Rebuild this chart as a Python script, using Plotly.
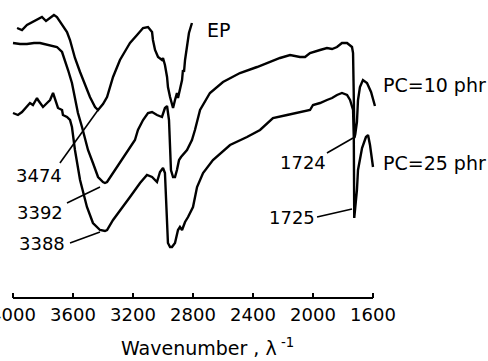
import plotly.graph_objects as go

# ---- data (wavenumber cm^-1, transmittance in arbitrary units) ----
ep_wn = [3973, 3940, 3907, 3867, 3840, 3807, 3780, 3753, 3727, 3707, 3673, 3640, 3620, 3607,
         3587, 3553, 3520, 3487, 3453, 3433, 3400, 3373, 3333, 3287, 3240, 3220, 3173, 3133,
         3100, 3073, 3067, 3053, 3033, 3007, 3000, 2987, 2973, 2967, 2953, 2940, 2933, 2920,
         2907, 2900, 2887, 2873, 2867, 2860, 2853, 2840, 2827, 2807]
ep_t = [135, 134, 136.5, 138, 139, 140.5, 138.5, 140, 141.5, 140.5, 136.5, 133, 129, 125.5,
        120, 113, 106.5, 100.5, 95.5, 94, 97, 100.5, 110.5, 119, 125, 127.5, 131.5, 135,
        135.5, 133, 129, 124, 120.5, 119, 120, 116.5, 110.5, 105.5, 100.5, 96.5, 95, 99,
        102.5, 100, 104, 109, 114, 113, 119, 125.5, 132.5, 137.5]

pc10_wn = [4000, 3953, 3907, 3860, 3820, 3787, 3753, 3707, 3673, 3653, 3633, 3607, 3587, 3567,
           3540, 3520, 3500, 3467, 3433, 3400, 3387, 3373, 3333, 3287, 3220, 3187, 3167, 3133,
           3100, 3073, 3040, 3007, 2987, 2973, 2960, 2953, 2947, 2933, 2920, 2907, 2893, 2880,
           2867, 2840, 2807, 2787, 2753, 2687, 2600, 2487, 2373, 2287, 2220, 2153, 2087, 2053,
           2020, 1953, 1907, 1873, 1840, 1807, 1773, 1740, 1733, 1729, 1724, 1718, 1707, 1700,
           1687, 1667, 1640, 1613, 1600, 1587]
pc10_t = [127.5, 127, 127, 127.5, 127.5, 127, 126.5, 125.5, 123, 119, 114, 107.5, 99, 92.5,
          85.5, 79, 74, 67.5, 60.5, 58, 57.5, 58, 62.5, 67.5, 75, 79, 84, 89,
          92.5, 93, 91.5, 90.5, 95, 96, 89, 74, 64, 60.5, 60.5, 64, 69, 70.5,
          71.5, 74, 79, 84, 94, 102.5, 108, 112.5, 115.5, 118, 120, 121.5, 120.5, 120.5,
          122.5, 124, 125, 124.5, 125.5, 127.5, 127.5, 125.5, 122.5, 105, 80, 82, 88, 99,
          105.5, 109, 107.5, 103, 99, 96]

pc25_wn = [4000, 3967, 3940, 3907, 3887, 3867, 3840, 3833, 3807, 3800, 3773, 3753, 3733, 3720,
           3700, 3673, 3667, 3640, 3620, 3607, 3587, 3553, 3507, 3467, 3420, 3387, 3373, 3333,
           3267, 3220, 3153, 3107, 3073, 3040, 3020, 3000, 2987, 2980, 2973, 2967, 2953, 2940,
           2920, 2900, 2887, 2873, 2853, 2833, 2800, 2773, 2733, 2667, 2553, 2440, 2353, 2267,
           2173, 2087, 2020, 2000, 1953, 1907, 1873, 1840, 1807, 1773, 1753, 1733, 1728, 1725,
           1707, 1700, 1673, 1647, 1633, 1620, 1607, 1600]
pc25_t = [92.5, 91.5, 93, 95.5, 97.5, 96.5, 100, 99, 96.5, 95.5, 97.5, 99, 102.5, 99,
          95, 94, 91.5, 90.5, 89, 85.5, 74, 59, 45.5, 37.5, 34, 33.5, 34, 39,
          45.5, 50.5, 57.5, 61.5, 60.5, 58, 63, 65, 62.5, 50.5, 34, 27.5, 25.5, 25.5,
          27.5, 34, 35.5, 34, 38, 40.5, 45.5, 55.5, 62.5, 69, 76.5, 80.5, 84, 90,
          91.5, 93, 94, 96.5, 97.5, 99, 100, 101.5, 102.5, 101.5, 99, 94, 80, 40,
          54, 64, 75, 80.5, 81.5, 76.5, 69, 65.5]

tick_vals = [4000, 3600, 3200, 2800, 2400, 2000, 1600]
tick_text = ["4000", "3600", "3200", "2800", "2400", "2000", "1600"]

# peak labels: (text, label_x, label_y, line_from_x, line_from_y, line_to_x, line_to_y)
peak_labels = [
    ("3474", 3827, 61.5, 3687, 67.5, 3433, 94),
    ("3392", 3820, 43, 3640, 47.5, 3420, 55.5),
    ("3388", 3807, 27.5, 3620, 27.5, 3420, 33),
    ("1724", 2067, 68, 1907, 72.5, 1733, 80),
    ("1725", 2140, 40.5, 1973, 40.5, 1740, 44.5),
]
# series labels: (text, x in paper fraction, y in data units, anchor)
series_labels = [("EP", 0.566, 134, "center"),
                 ("PC=10 phr", 1.006, 106.5, "left"),
                 ("PC=25 phr", 1.006, 67.5, "left")]

FONT = "DejaVu Sans"
fig = go.Figure()
for wn, t in [(ep_wn, ep_t), (pc10_wn, pc10_t), (pc25_wn, pc25_t)]:
    fig.add_trace(go.Scatter(x=wn, y=t, mode="lines",
                             line=dict(color="black", width=2.4), showlegend=False,
                             hoverinfo="skip"))

shapes = []
annotations = []
for txt, lx, ly, x0, y0, x1, y1 in peak_labels:
    shapes.append(dict(type="line", xref="x", yref="y", x0=x0, y0=y0, x1=x1, y1=y1,
                       line=dict(color="black", width=1.6)))
    annotations.append(dict(text=txt, x=lx, y=ly, xref="x", yref="y", showarrow=False,
                            xanchor="center", yanchor="middle",
                            font=dict(family=FONT, size=18, color="black")))
for txt, lx, ly, anc in series_labels:
    annotations.append(dict(text=txt, x=lx, y=ly, xref="paper", yref="y", showarrow=False,
                            xanchor=anc, yanchor="middle",
                            font=dict(family=FONT, size=19, color="black")))

# bottom axis line from 4000 to 1600
shapes.append(dict(type="line", xref="x", yref="paper", x0=4000, x1=1600, y0=0, y1=0,
                   line=dict(color="black", width=2)))

annotations.append(dict(text="Wavenumber , λ<sup> -1</sup>", x=0.535, y=-0.165,
                        xref="paper", yref="paper", showarrow=False,
                        xanchor="center", yanchor="middle",
                        font=dict(family=FONT, size=19, color="black")))

fig.update_layout(
    width=488, height=361,
    margin=dict(l=10, r=109, t=0, b=63, autoexpand=False),
    paper_bgcolor="white", plot_bgcolor="white",
    shapes=shapes, annotations=annotations,
    xaxis=dict(range=[4020, 1560], showgrid=False, zeroline=False, showline=False,
               automargin=False,
               tickmode="array", tickvals=tick_vals, ticktext=tick_text,
               ticks="inside", ticklen=5, tickwidth=1.5, tickcolor="black",
               ticklabeloverflow="allow", ticklabelstandoff=4,
               tickfont=dict(family=FONT, size=18, color="black")),
    yaxis=dict(range=[0, 149], visible=False, automargin=False),
)

fig.write_html("out.html")
